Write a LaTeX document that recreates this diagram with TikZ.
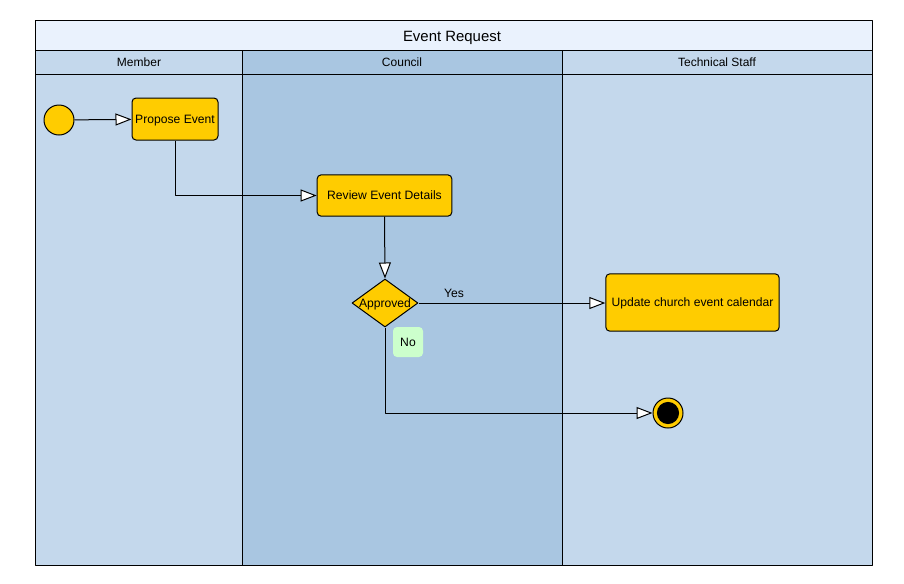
\documentclass[tikz,border=0pt]{standalone}
\usepackage{fontspec}
\setmainfont{Liberation Sans}
\usetikzlibrary{arrows.meta,shapes.geometric}
\definecolor{laneLight}{RGB}{196,216,236}
\definecolor{laneDark}{RGB}{169,198,225}
\definecolor{titleFill}{RGB}{234,242,253}
\definecolor{actYellow}{RGB}{255,204,0}
\definecolor{noGreen}{RGB}{204,255,204}
\begin{document}
\begin{tikzpicture}[x=0.75pt, y=-0.75pt, line width=0.75pt, line join=round, font=\fontsize{9.1}{11}\selectfont,
	>={Triangle[fill=white,length=12pt,width=9pt]}, every node/.style={text depth=0pt},
	act/.style={draw, fill=actYellow, rounded corners=3pt, inner sep=0pt},
	lanehead/.style={font=\fontsize{9}{10}\selectfont}]
	\def\xl{35} \def\xa{242} \def\xb{562} \def\xr{872} % Lanes
	\def\yt{20} \def\yh{50} \def\yb{74} \def\ye{565}
	\useasboundingbox (0,0) rectangle (904,583);
	% pool
	\fill[titleFill] (\xl,\yt) rectangle (\xr,\yh);
	\fill[laneLight] (\xl,\yh) rectangle (\xa,\ye);
	\fill[laneDark] (\xa,\yh) rectangle (\xb,\ye);
	\fill[laneLight] (\xb,\yh) rectangle (\xr,\ye);
	\draw (\xl,\yt) rectangle (\xr,\ye);
	\draw (\xl,\yh)--(\xr,\yh) (\xl,\yb)--(\xr,\yb);
	\draw (\xa,\yh)--(\xa,\ye) (\xb,\yh)--(\xb,\ye);
	\node (title) at (452,36) {\fontsize{11.2}{12}\selectfont Event Request};
	\node[lanehead] (member) at (139,62.5) {Member};
	\node[lanehead] (council) at (402,62.5) {Council};
	\node[lanehead] (staff) at (717,62.5) {Technical Staff};
	% activities
	\node[draw, circle, fill=actYellow, minimum size=22.5pt, inner sep=0pt] (start) at (59,120) {};
	\node[act, minimum width=64.5pt, minimum height=31.5pt] (propose) at (175,119) {Propose Event};
	\node[act, minimum width=101pt, minimum height=31pt] (review) at (384.5,195.5) {Review Event Details};
	\node[draw, diamond, fill=actYellow, minimum width=49.5pt, minimum height=36pt, inner sep=0pt,
		label=center:Approved] (approved) at (385,303) {};
	\node[act, minimum width=130pt, minimum height=43pt] (update) at (692.5,302.5) {Update church event calendar};
	\node[draw, circle, fill=actYellow, minimum size=22.5pt, inner sep=0pt,
		path picture={\fill[black] (path picture bounding box.center) circle (8.3pt);}] (stop) at (668,413) {};
	% flows
	\draw[->] (start)--(propose);
	\draw[->] (propose.south) |- (review.west);
	\draw[->] (review.south)--(approved.north);
	\draw[->] (approved.east)--(approved.east -| update.west);
	\draw[->] (approved.south) |- (stop.west);
	\node (yes) at (454,293) {Yes};
	\node[fill=noGreen, rounded corners=3pt, minimum size=22.5pt, inner sep=0pt] (no) at (408,342) {No};
\end{tikzpicture}
\end{document}
